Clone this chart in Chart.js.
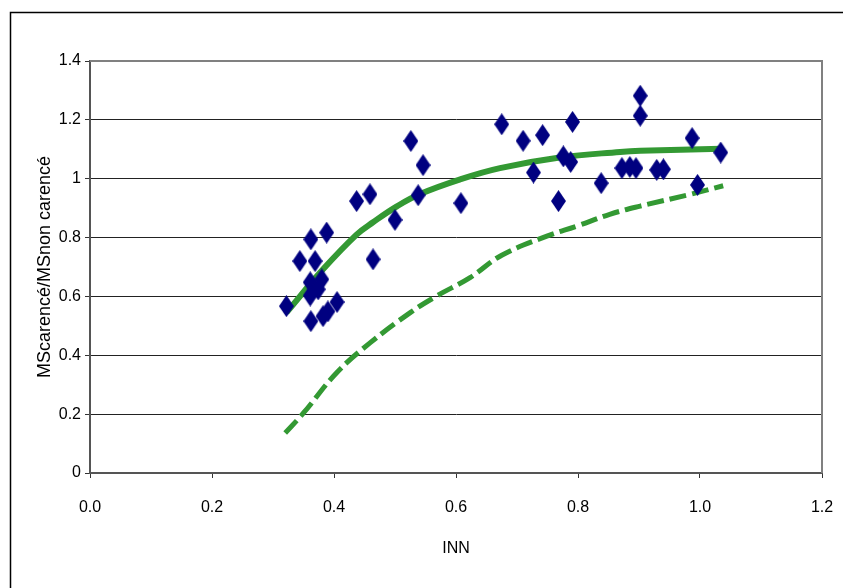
<!DOCTYPE html>
<html>
<head>
<meta charset="utf-8">
<script src="https://cdn.jsdelivr.net/npm/chart.js@4/dist/chart.umd.min.js"></script>
<style>
  html, body { margin: 0; padding: 0; background: #fff; }
  #wrap { width: 843px; height: 588px; }
</style>
</head>
<body>
<div id="wrap"><canvas id="inn"></canvas></div>
<script>
// measured points (INN, MS ratio)
var obsX = [0.322, 0.344, 0.362, 0.369, 0.388, 0.361, 0.374, 0.361, 0.380, 0.405,
            0.362, 0.382, 0.390, 0.437, 0.459, 0.464, 0.500, 0.526, 0.546, 0.538,
            0.608, 0.675, 0.710, 0.727, 0.742, 0.768, 0.776, 0.788, 0.791, 0.838,
            0.872, 0.885, 0.895, 0.902, 0.902, 0.929, 0.940, 0.987, 0.996, 1.034];
var obsY = [0.567, 0.720, 0.794, 0.720, 0.817, 0.648, 0.624, 0.603, 0.658, 0.581,
            0.516, 0.533, 0.549, 0.924, 0.947, 0.726, 0.860, 1.128, 1.046, 0.944,
            0.917, 1.185, 1.129, 1.021, 1.148, 0.924, 1.076, 1.057, 1.193, 0.985,
            1.036, 1.040, 1.036, 1.282, 1.214, 1.030, 1.032, 1.138, 0.979, 1.089];
// fitted curve (solid)
var fitX = [0.322, 0.382, 0.437, 0.464, 0.503, 0.541, 0.607, 0.672, 0.770, 0.869, 0.902, 1.035];
var fitY = [0.545, 0.692, 0.810, 0.852, 0.906, 0.948, 0.998, 1.036, 1.072, 1.091, 1.095, 1.102];
// lower curve (dashed)
var lowX = [0.320, 0.350, 0.404, 0.459, 0.525, 0.568, 0.623, 0.675, 0.749, 0.798, 0.852, 0.902, 0.984, 1.038];
var lowY = [0.136, 0.204, 0.340, 0.442, 0.545, 0.601, 0.664, 0.740, 0.805, 0.839, 0.879, 0.907, 0.947, 0.976];

function toPoints(xs, ys) {
  var pts = [];
  for (var i = 0; i < xs.length; i++) pts.push({x: xs[i], y: ys[i]});
  return pts;
}

// tall diamond marker like the excel one
function makeDiamond(w, h, color) {
  var c = document.createElement('canvas');
  c.width = w; c.height = h;
  var g = c.getContext('2d');
  g.fillStyle = color;
  g.beginPath();
  g.moveTo(w / 2, 0);
  g.lineTo(w, h / 2);
  g.lineTo(w / 2, h);
  g.lineTo(0, h / 2);
  g.closePath();
  g.fill();
  return c;
}

// page frame + plot border (top / right)
var framePlugin = {
  id: 'frame',
  beforeDraw: function (chart) {
    var ctx = chart.ctx;
    ctx.save();
    ctx.fillStyle = '#fff';
    ctx.fillRect(0, 0, chart.width, chart.height);
    ctx.strokeStyle = '#000';
    ctx.lineWidth = 1.5;
    ctx.beginPath();
    ctx.moveTo(10.5, chart.height + 5);
    ctx.lineTo(10.5, 12.5);
    ctx.lineTo(chart.width + 5, 12.5);
    ctx.stroke();
    ctx.restore();
  },
  afterDraw: function (chart) {
    var a = chart.chartArea, ctx = chart.ctx;
    ctx.save();
    ctx.strokeStyle = '#808080';
    ctx.lineWidth = 2;
    ctx.beginPath();
    ctx.moveTo(a.left, a.top);
    ctx.lineTo(a.right, a.top);
    ctx.lineTo(a.right, a.bottom);
    ctx.stroke();
    ctx.restore();
  }
};

var tickFont = {family: "'Liberation Sans', Arial, sans-serif", size: 16};

new Chart(document.getElementById('inn'), {
  type: 'scatter',
  data: {
    datasets: [{
      data: toPoints(obsX, obsY),
      pointStyle: makeDiamond(15, 22, '#000080'),
      pointRadius: 8,
      showLine: false
    }, {
      data: toPoints(fitX, fitY),
      showLine: true,
      borderColor: '#339933',
      borderWidth: 6,
      pointRadius: 0,
      tension: 0.4
    }, {
      data: toPoints(lowX, lowY),
      showLine: true,
      borderColor: '#339933',
      borderWidth: 5,
      borderDash: [17, 6],
      pointRadius: 0,
      tension: 0.4
    }]
  },
  options: {
    responsive: true,
    maintainAspectRatio: false,
    animation: false,
    layout: {padding: {left: 0, top: 61, right: 21, bottom: 0}},
    plugins: {legend: {display: false}, tooltip: {enabled: false}},
    scales: {
      x: {
        type: 'linear',
        min: 0, max: 1.2,
        afterFit: function (s) {
          s.height = 115;
          s.paddingLeft = 0;
          s.paddingRight = 0;
        },
        ticks: {
          stepSize: 0.2,
          color: '#000',
          font: tickFont,
          padding: 20,
          maxRotation: 0,
          callback: function (v) { return v.toFixed(1); }
        },
        grid: {drawOnChartArea: false, tickLength: 5, tickColor: '#333', tickWidth: 1},
        border: {color: '#555', width: 2},
        title: {
          display: true,
          text: 'INN',
          color: '#000',
          font: tickFont,
          padding: {top: 0, bottom: 30}
        }
      },
      y: {
        min: 0, max: 1.4,
        afterFit: function (s) {
          s.width = 90;
          s.paddingTop = 0;
          s.paddingBottom = 0;
        },
        ticks: {
          stepSize: 0.2,
          color: '#000',
          font: tickFont,
          padding: 4,
          callback: function (v) { return String(parseFloat(v.toFixed(1))); }
        },
        grid: {
          tickLength: 5,
          tickColor: '#333',
          color: function (c) {
            if (c.tick && (c.tick.value === 0 || c.tick.value >= 1.39)) return 'rgba(0,0,0,0)';
            return '#222';
          },
          lineWidth: 1
        },
        border: {color: '#555', width: 2},
        title: {
          display: true,
          text: 'MScarencé/MSnon carencé',
          color: '#000',
          font: {family: "'Liberation Sans', Arial, sans-serif", size: 18},
          padding: {top: 34, bottom: 0}
        }
      }
    }
  },
  plugins: [framePlugin]
});
</script>
</body>
</html>
